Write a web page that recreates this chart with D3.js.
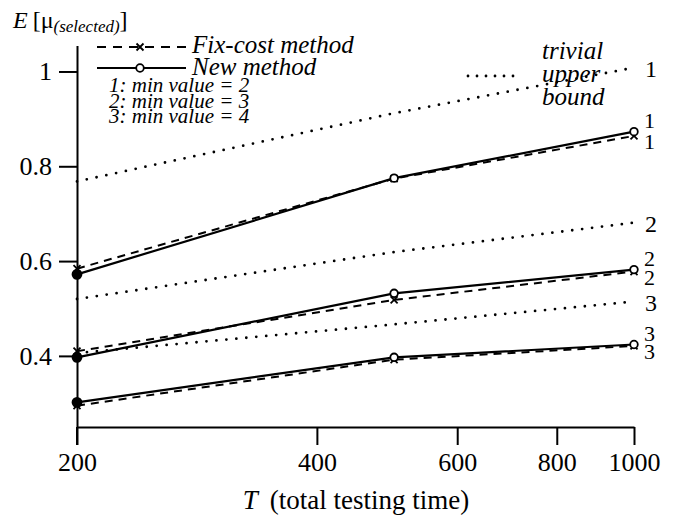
<!DOCTYPE html>
<html>
<head>
<meta charset="utf-8">
<script src="https://cdn.jsdelivr.net/npm/d3@7"></script>
<style>
  html, body { margin: 0; padding: 0; background: #fff; }
  svg { display: block; }
</style>
</head>
<body>
<svg id="chart" width="675" height="520"></svg>
<script>
// ---- data ----
const T = [200, 500, 1000];
const xTicks = [200, 400, 600, 800, 1000];
const yTicks = [0.4, 0.6, 0.8, 1];
const yTickLabels = ["0.4", "0.6", "0.8", "1"];

const newMethod1 = [0.572, 0.775, 0.873];
const fixCost1   = [0.584, 0.774, 0.864];
const newMethod2 = [0.397, 0.532, 0.582];
const fixCost2   = [0.410, 0.518, 0.578];
const newMethod3 = [0.302, 0.397, 0.424];
const fixCost3   = [0.295, 0.392, 0.421];
const bound1 = [0.768, 0.912, 1.008];
const bound2 = [0.520, 0.619, 0.681];
const bound3 = [0.406, 0.4665, 0.5146];

const seriesLabels = ["1", "2", "3"];
const legendMinValues = ["1: min value = 2", "2: min value = 3", "3: min value = 4"];

// ---- drawing ----
const FONT = "'Liberation Serif', 'Times New Roman', Tinos, 'Nimbus Roman', 'DejaVu Serif', 'Noto Serif', serif";
const svg = d3.select("#chart");
const x = d3.scaleLog().domain([200, 1000]).range([77, 634]);
const y = d3.scaleLinear().domain([0.25, 1.055]).range([427, 45.4]);

const line = d3.line().x((d, i) => x(T[i])).y(d => y(d));

// axes
const xAxis = d3.axisBottom(x).tickValues(xTicks).tickFormat(d3.format("d"))
  .tickSize(18).tickSizeOuter(0).tickPadding(8);
const gx = svg.append("g").attr("transform", "translate(0,427)").call(xAxis);
gx.attr("font-family", FONT);
gx.selectAll("text").style("font-size", "26px").attr("fill", "#000");
gx.selectAll("line, path").attr("stroke", "#000").attr("stroke-width", 2);

const yAxis = d3.axisLeft(y).tickValues(yTicks).tickFormat((d, i) => yTickLabels[i])
  .tickSize(18).tickSizeOuter(0).tickPadding(7);
const gy = svg.append("g").attr("transform", "translate(77,0)").call(yAxis);
gy.attr("font-family", FONT);
gy.selectAll("text").style("font-size", "26px").attr("fill", "#000");
gy.selectAll("line, path").attr("stroke", "#000").attr("stroke-width", 2);
svg.append("line").attr("x1", 77).attr("x2", 77).attr("y1", 427).attr("y2", 445)
  .attr("stroke", "#000").attr("stroke-width", 2);

// dotted bounds
const bounds = [bound1, bound2, bound3];
bounds.forEach((b, k) => {
  svg.append("path").attr("d", line(b)).attr("fill", "none").attr("stroke", "#000")
    .attr("stroke-width", 2.8).attr("stroke-linecap", "round").attr("stroke-dasharray", "0 10");
  svg.append("text").attr("font-family", FONT).attr("x", 645).attr("y", y(b[2]) + 1)
    .attr("dominant-baseline", "central").style("font-size", "24px").text(seriesLabels[k]);
});

// method lines
const news = [newMethod1, newMethod2, newMethod3];
const fixes = [fixCost1, fixCost2, fixCost3];

function xMarker(g, cx, cy) {
  const s = 3.5;
  g.append("path").attr("d", `M${cx - s},${cy - s}L${cx + s},${cy + s}M${cx - s},${cy + s}L${cx + s},${cy - s}`)
    .attr("stroke", "#000").attr("stroke-width", 1.8);
}

fixes.forEach((f, k) => {
  svg.append("path").attr("d", line(f)).attr("fill", "none").attr("stroke", "#000")
    .attr("stroke-width", 2).attr("stroke-dasharray", "8 6");
  f.forEach((v, i) => xMarker(svg, x(T[i]), y(v)));
  svg.append("text").attr("font-family", FONT).attr("x", 644).attr("y", y(f[2]) + 6)
    .attr("dominant-baseline", "central").style("font-size", "22px").text(seriesLabels[k]);
});

news.forEach((n, k) => {
  svg.append("path").attr("d", line(n)).attr("fill", "none").attr("stroke", "#000")
    .attr("stroke-width", 2.2);
  n.forEach((v, i) => {
    svg.append("circle").attr("cx", x(T[i])).attr("cy", y(v)).attr("r", i === 0 ? 4.5 : 3.8)
      .attr("fill", i === 0 ? "#000" : "#fff").attr("stroke", "#000").attr("stroke-width", 1.8);
  });
  svg.append("text").attr("font-family", FONT).attr("x", 644).attr("y", y(n[2]) - 11)
    .attr("dominant-baseline", "central").style("font-size", "22px").text(seriesLabels[k]);
});

// legend
const lg = svg.append("g").attr("font-family", FONT);
lg.append("line").attr("x1", 97).attr("x2", 186).attr("y1", 47).attr("y2", 47)
  .attr("stroke", "#000").attr("stroke-width", 2).attr("stroke-dasharray", "9 7");
xMarker(lg, 140, 47);
lg.append("text").attr("x", 192).attr("y", 53).style("font-size", "25px").style("font-style", "italic")
  .text("Fix-cost method");
lg.append("line").attr("x1", 97).attr("x2", 186).attr("y1", 68).attr("y2", 68)
  .attr("stroke", "#000").attr("stroke-width", 2.2);
lg.append("circle").attr("cx", 140).attr("cy", 68).attr("r", 3.8).attr("fill", "#fff")
  .attr("stroke", "#000").attr("stroke-width", 1.8);
lg.append("text").attr("x", 192).attr("y", 75).style("font-size", "25px").style("font-style", "italic")
  .text("New method");
legendMinValues.forEach((t, i) => {
  lg.append("text").attr("x", 109).attr("y", 92 + i * 15.5).style("font-size", "21px")
    .style("font-style", "italic").text(t);
});
lg.append("line").attr("x1", 468).attr("x2", 522).attr("y1", 76).attr("y2", 76)
  .attr("stroke", "#000").attr("stroke-width", 2.8).attr("stroke-linecap", "round").attr("stroke-dasharray", "0 9");
["trivial", "upper", "bound"].forEach((t, i) => {
  lg.append("text").attr("x", 542).attr("y", 59 + i * 23).style("font-size", "25px")
    .style("font-style", "italic").text(t);
});

// y-axis title
const title = svg.append("text").attr("font-family", FONT).attr("x", 13).attr("y", 28).style("font-size", "24px");
title.append("tspan").style("font-style", "italic").text("E");
title.append("tspan").attr("dx", 5).text("[μ");
title.append("tspan").attr("dy", 4).style("font-size", "17px").style("font-style", "italic").text("(selected)");
title.append("tspan").attr("dy", -4).text("]");

// x-axis title
const xt = svg.append("text").attr("font-family", FONT).attr("x", 356).attr("y", 509)
  .attr("text-anchor", "middle").style("font-size", "27px");
xt.append("tspan").style("font-style", "italic").text("T");
xt.append("tspan").attr("dx", 12).text("(total testing time)");
</script>
</body>
</html>
